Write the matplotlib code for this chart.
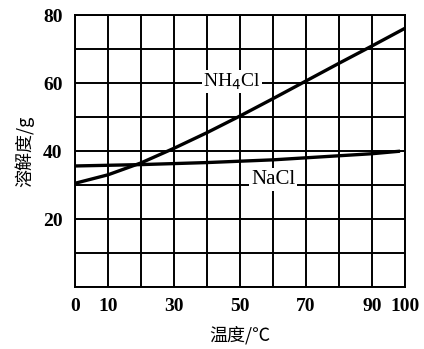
import matplotlib
matplotlib.use("Agg")
import matplotlib.pyplot as plt

temps = [0, 10, 20, 30, 40, 50, 60, 70, 80, 90, 100]
nh4cl = [30.5, 33.0, 36.5, 40.8, 45.4, 50.3, 55.4, 60.6, 65.8, 70.9, 76.1]
nacl_t = [0, 10, 20, 30, 40, 50, 60, 70, 80, 90, 98]
nacl = [35.6, 35.8, 36.0, 36.3, 36.6, 37.0, 37.4, 38.0, 38.6, 39.2, 39.9]
xtick_labels = {0: "0", 10: "10", 30: "30", 50: "50", 70: "70", 90: "90", 100: "100"}
ytick_labels = {20: "20", 40: "40", 60: "60", 80: "80"}

fig = plt.figure(figsize=(4.24, 3.49), dpi=100)
ax = fig.add_axes([75/424, 1-287/349, 330/424, 272/349])
ax.set_xlim(0, 100)
ax.set_ylim(0, 80)

for x in range(0, 101, 10):
    ax.axvline(x, color="black", lw=1.4, zorder=1)
for y in range(0, 81, 10):
    ax.axhline(y, color="black", lw=1.4, zorder=1)

ax.plot(temps, nh4cl, color="black", lw=2.4, zorder=3)
ax.plot(nacl_t, nacl, color="black", lw=2.4, zorder=3)

serif = "Liberation Serif"
ax.text(47.5, 60.4, "NH$_4$Cl", fontsize=14, family=serif, ha="center", va="center",
        bbox=dict(facecolor="white", edgecolor="none", pad=1), zorder=4)
ax.text(60, 31.5, "NaCl", fontsize=15, family=serif, ha="center", va="center",
        bbox=dict(facecolor="white", edgecolor="none", pad=1.5), zorder=4)

ax.set_xticks(list(range(0, 101, 10)))
ax.set_xticklabels([xtick_labels.get(v, "") for v in range(0, 101, 10)],
                   family=serif, fontsize=14, fontweight="bold")
ax.set_yticks(list(range(0, 81, 10)))
ax.set_yticklabels([ytick_labels.get(v, "") for v in range(0, 81, 10)],
                   family=serif, fontsize=14, fontweight="bold")
ax.tick_params(axis="y", length=0, pad=9)
ax.tick_params(axis="x", length=0, pad=8)
for s in ax.spines.values():
    s.set_linewidth(1.4)

ax.set_xlabel("温度/℃", family=["Noto Sans CJK SC", "DejaVu Sans"], fontsize=13, labelpad=8)
ax.set_ylabel("溶解度/g", family=["Noto Sans CJK SC", "DejaVu Sans"], fontsize=13, labelpad=6)

fig.savefig("out.png", dpi=100)
